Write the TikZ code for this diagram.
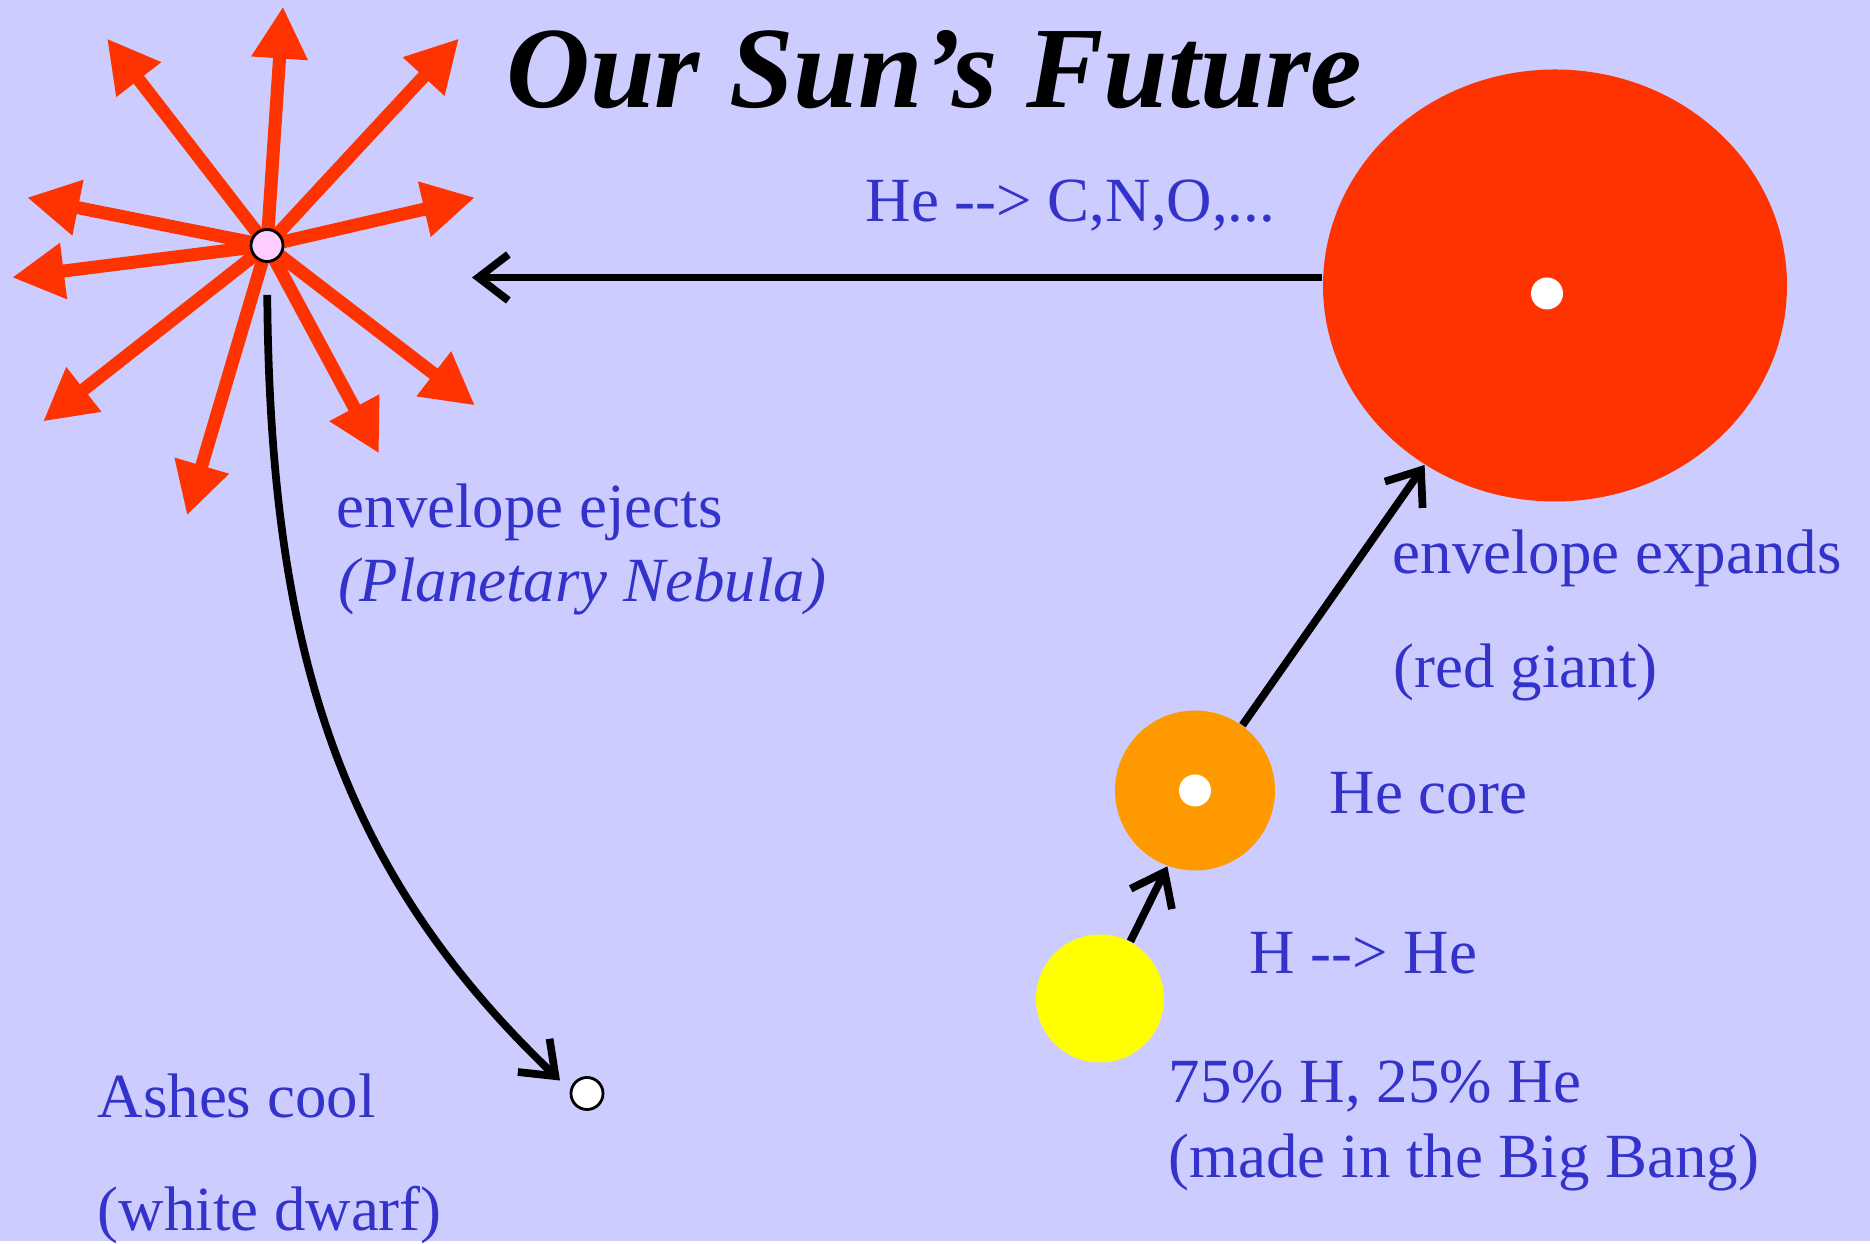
\documentclass[tikz,border=0pt]{standalone}
\usepackage{fontspec}
\setmainfont{Liberation Serif}
\usepackage{xcolor}
\usepackage{tikz}
\usetikzlibrary{arrows.meta, shapes.geometric, positioning}

\definecolor{slidebg}{HTML}{CCCCFF}
\definecolor{flare}{HTML}{FF3300}
\definecolor{hecore}{HTML}{FF9900}
\definecolor{sunyellow}{HTML}{FFFF00}
\definecolor{nebpink}{HTML}{FFCCFF}
\definecolor{textblue}{HTML}{3333CC}

\newcommand{\bodysize}{\fontsize{17.9}{17.9}\selectfont}

\begin{document}
\begin{tikzpicture}[
    burst/.style={draw=flare, line width=3.7pt, -{Triangle[length=5.2mm,width=5.3mm]}},
    evolve/.style={draw=black, line width=2.2pt, -{Straight Barb[length=3mm,width=4.6mm]}},
    star/.style={circle, inner sep=0pt, draw=none},
    core/.style={circle, fill=white, inner sep=0pt, minimum size=3.2mm},
    txt/.style={text=textblue, anchor=base west, inner sep=0pt, font=\bodysize}
]

    % =================================================================
    % 1. BACKGROUND (fixes the size of the picture)
    % =================================================================
    \fill[slidebg] (0,0) rectangle (18.70,12.41);

    % =================================================================
    % 2. PLANETARY NEBULA: BURST OF ARROWS
    % =================================================================
    \coordinate (nebula) at (2.67,9.96);
    \foreach \x/\y [count=\i] in {2.83/12.35, 1.07/12.03, 4.59/12.03, 0.27/10.44,
        0.12/9.64, 4.75/10.44, 0.43/8.20, 1.87/7.26, 3.79/7.88, 4.75/8.36}{
        \coordinate (tip\i) at (\x,\y);
        \draw[burst] (nebula) -- (tip\i);
    }
    \node[core, fill=nebpink, draw=black, line width=0.8pt] (nebdot) at (nebula) {};

    % =================================================================
    % 3. STARS
    % =================================================================
    \node[ellipse, fill=flare, inner sep=0pt, minimum width=4.64cm, minimum height=4.32cm] (giant) at (15.55,9.56) {};
    \node[core] (giantcore) at (15.47,9.48) {};

    \node[star, fill=hecore, minimum size=1.60cm] (orange) at (11.95,4.51) {};
    \node[core] (orangecore) at (orange) {};

    \node[star, fill=sunyellow, minimum size=1.28cm] (sun) at (11.00,2.43) {};

    \node[core, draw=black, line width=0.8pt] (dwarf) at (5.87,1.48) {};

    % =================================================================
    % 4. EVOLUTION ARROWS
    % =================================================================
    \coordinate (ejtip) at (4.72,9.64);
    \draw[evolve] (giant.west |- ejtip) -- (ejtip);
    \draw[evolve] (sun.62) -- (orange.250);
    \draw[evolve] (orange.54) -- (giant.234);

    % curved path down to the white dwarf
    \coordinate (wdtip) at ([shift={(-0.27,0.13)}]dwarf.center);
    \draw[evolve, shorten <=3.2mm] (nebdot.south)
        .. controls (2.70,5.91) and (3.40,3.71) .. (wdtip);

    % =================================================================
    % 5. TITLE AND LABELS
    % =================================================================
    \node[txt, text=black, font=\bfseries\itshape\fontsize{33}{33}\selectfont] (title) at (5.06,11.34) {Our Sun's Future};

    \node[txt] (fusionlbl) at (8.65,10.20) {He -{}-> C,N,O,...};

    \node[txt] (ejectlbl) at (3.36,7.14) {envelope ejects};
    \node[txt, font=\itshape\bodysize] (pnlbl) at (3.38,6.40) {(Planetary Nebula)};

    \node[txt] (expandlbl) at (13.92,6.68) {envelope expands};
    \node[txt] (giantlbl) at (13.93,5.54) {(red giant)};

    \node[txt] (corelbl) at (13.29,4.28) {He core};
    \node[txt] (burnlbl) at (12.49,2.68) {H -{}-> He};

    \node[txt] (mixlbl) at (11.68,1.39) {75\% H, 25\% He};
    \node[txt] (banglbl) at (11.68,0.64) {(made in the Big Bang)};

    \node[txt] (ashlbl) at (0.97,1.24) {Ashes cool};
    \node[txt] (dwarflbl) at (0.97,0.11) {(white dwarf)};

\end{tikzpicture}
\end{document}
